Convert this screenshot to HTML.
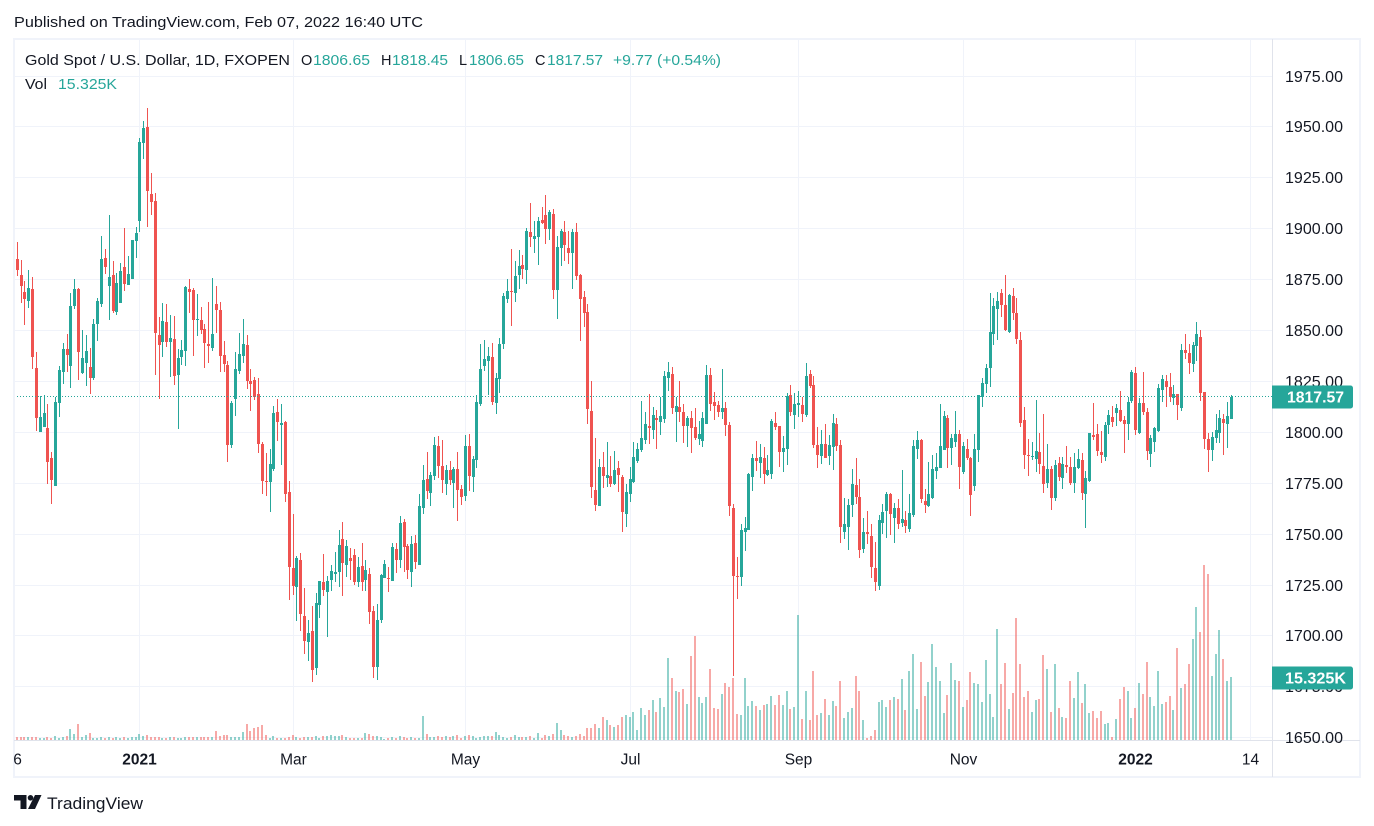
<!DOCTYPE html>
<html lang="en">
<head>
<meta charset="utf-8">
<title>Gold Spot / U.S. Dollar chart</title>
<style>
html,body{margin:0;padding:0;background:#fff;width:1374px;height:826px;overflow:hidden}
svg{display:block;font-family:"Liberation Sans",sans-serif}
</style>
</head>
<body>
<svg id="chart" xmlns="http://www.w3.org/2000/svg" width="1374" height="826" viewBox="0 0 1374 826">
  <defs>
    <clipPath id="pane-clip"><rect x="14" y="39" width="1258" height="702"/></clipPath>
    <clipPath id="time-clip"><rect x="14" y="741" width="1258" height="36"/></clipPath>
  </defs>
  <rect x="0" y="0" width="1374" height="826" fill="#ffffff"/>
  <text x="14" y="27" font-size="14.5" fill="#131722" textLength="409" lengthAdjust="spacingAndGlyphs">Published on TradingView.com, Feb 07, 2022 16:40 UTC</text>
  <g id="grid"></g>
  <g id="panes" clip-path="url(#pane-clip)">
    <g id="volumes"></g>
    <g id="candles"></g>
    <line id="last-line" x1="14" x2="1272" stroke="#26a69a" stroke-width="1" stroke-dasharray="1 2"/>
  </g>
  <rect x="14" y="39" width="1346" height="738" fill="none" stroke="#f0f3fa" stroke-width="2"/>
  <line x1="1272.5" x2="1272.5" y1="39" y2="777" stroke="#e0e3eb" stroke-width="1"/>
  <line x1="14" x2="1360" y1="740.5" y2="740.5" stroke="#e0e3eb" stroke-width="1"/>
  <g id="price-axis"></g>
  <g id="time-axis" clip-path="url(#time-clip)"></g>

  <g>
    <text x="25" y="65" font-size="14.5" fill="#131722" textLength="265" lengthAdjust="spacingAndGlyphs">Gold Spot / U.S. Dollar, 1D, FXOPEN</text>
    <text x="301" y="65" font-size="14.5" fill="#131722">O</text>
    <text x="313" y="65" font-size="14.5" fill="#26a69a" textLength="57" lengthAdjust="spacingAndGlyphs">1806.65</text>
    <text x="381" y="65" font-size="14.5" fill="#131722">H</text>
    <text x="392" y="65" font-size="14.5" fill="#26a69a" textLength="56" lengthAdjust="spacingAndGlyphs">1818.45</text>
    <text x="459" y="65" font-size="14.5" fill="#131722">L</text>
    <text x="469" y="65" font-size="14.5" fill="#26a69a" textLength="55" lengthAdjust="spacingAndGlyphs">1806.65</text>
    <text x="535" y="65" font-size="14.5" fill="#131722">C</text>
    <text x="547" y="65" font-size="14.5" fill="#26a69a" textLength="56" lengthAdjust="spacingAndGlyphs">1817.57</text>
    <text x="613" y="65" font-size="14.5" fill="#26a69a" textLength="108" lengthAdjust="spacingAndGlyphs">+9.77 (+0.54%)</text>
    <text x="25" y="89" font-size="14.5" fill="#131722" textLength="22" lengthAdjust="spacingAndGlyphs">Vol</text>
    <text x="58" y="89" font-size="14.5" fill="#26a69a" textLength="59" lengthAdjust="spacingAndGlyphs">15.325K</text>
  </g>

  <g>
    <path d="M14 795h12.5v14h-6v-8.5H14z" fill="#131722"/>
    <circle cx="30.5" cy="797.8" r="2.8" fill="#131722"/>
    <path d="M35 795h6.5L35 809h-7z" fill="#131722"/>
    <text x="47" y="809" font-size="17" fill="#131722" textLength="96" lengthAdjust="spacingAndGlyphs">TradingView</text>
  </g>
</svg>
<script>
const priceTicks = [1975,1950,1925,1900,1875,1850,1825,1800,1775,1750,1725,1700,1675,1650];
const timeTickLabels = ["6","2021","Mar","May","Jul","Sep","Nov","2022","14"];
const timeTickBars = [0,33,73,118,161,205,248,293,323];
const timeTickBold = [false,true,false,false,false,false,false,true,false];
const lastPrice = 1817.57;
const lastVolume = 15.325;

const opens = [1883.8,
1885.1,1877.3,1868.9,1864.5,1870.4,1831.6,1800.2,1802.6,1802.1,1787.4,1773.6,1814.4,1829.6,1840.9,1832.6,1862.0,1870.4,1829.1,1834.0,1832.1,
1826.7,1853.2,1863.0,1885.6,1871.9,1877.3,1859.1,1863.5,1881.2,1872.4,1875.3,1894.0,1903.8,1942.1,1949.9,1917.0,1913.6,1847.8,1844.4,1854.2,
1844.4,1845.8,1828.2,1837.0,1839.9,1870.4,1869.9,1855.2,1855.2,1850.7,1843.4,1841.4,1863.0,1860.1,1838.0,1833.1,
1793.8,1816.4,1830.1,1837.5,1842.9,1825.2,1825.7,1818.8,1794.3,1776.1,1775.6,1782.0,1810.0,1803.6,1805.1,1770.7,1733.4,1724.0,1737.3,1709.8,
1697.0,1702.4,1684.3,1715.2,1726.5,1721.6,1727.5,1730.4,1731.4,1747.6,1734.8,1738.3,1739.8,1726.5,1734.4,1727.5,1730.4,1712.3,1684.8,1707.8,
1728.5,1728.5,1727.0,1742.7,1737.3,1756.0,1744.2,1731.4,1745.7,1734.8,1762.8,1777.1,1770.2,1778.6,1793.3,
1783.5,1774.6,1781.5,1775.1,1782.0,1772.2,1768.7,1793.3,1778.1,1786.4,1813.9,1832.6,1835.0,1837.0,1814.4,1826.2,1843.4,1865.5,1869.4,1868.4,
1877.3,1882.2,1879.7,1898.4,1894.9,1895.9,1904.3,1906.7,1899.9,1907.2,1869.9,1890.5,1898.4,1890.5,1888.1,1898.4,1877.3,1866.5,1859.1,1810.5,
1771.7,1763.8,1783.0,1777.6,1778.6,1774.6,1782.5,1778.1,1759.9,1769.7,1775.6,1785.9,1791.3,1796.2,1803.1,
1801.1,1807.0,1805.1,1806.5,1826.7,1828.6,1810.0,1812.4,1810.0,1803.1,1807.0,1802.6,1796.7,1795.7,1804.1,1828.2,1814.9,1813.4,1810.0,1811.9,
1803.6,1762.8,1729.4,1729.0,1751.1,1752.0,1778.1,1787.4,1784.9,1787.4,1779.0,1779.5,1804.6,1803.1,1790.3,1791.8,1818.3,1808.5,1813.4,1813.4,
1808.5,1828.6,1823.2,1793.8,1788.4,1794.3,1788.4,1792.8,1804.1,1793.8,1751.1,1753.5,1764.3,1774.1,
1768.2,1742.7,1751.1,1749.1,1733.4,1724.5,1755.5,1761.4,1769.7,1757.9,1762.8,1755.5,1756.9,1752.5,1759.4,1791.8,1796.2,1766.3,1763.8,1767.8,
1781.0,1782.5,1791.3,1807.0,1792.3,1795.3,1799.2,1780.5,1791.8,1787.4,1773.6,1791.3,1817.4,1823.7,1831.6,1848.3,1860.6,1868.4,1862.5,1849.3,
1867.0,1858.6,1845.3,1806.1,1788.9,1787.9,1786.9,1790.3,1783.5,1775.1,
1782.0,1767.8,1784.9,1777.6,1784.0,1783.0,1775.1,1782.5,1786.4,1769.7,1776.1,1798.7,1799.2,1790.3,1787.9,1803.6,1807.5,1809.5,1811.0,1806.1,
1804.1,1815.4,1829.1,1799.7,1814.4,1810.0,1789.4,1795.3,1800.7,1820.8,1825.2,1822.3,1816.9,1818.8,1811.9,1840.4,1839.0,1833.6,1842.4,1846.8,
1819.8,1796.7,1791.3,1797.2,1799.7,1806.5,1804.1,1806.65];

const closes = [1887.9,
1879.7,1871.9,1865.5,1870.9,1837.0,1807.0,1807.5,1809.5,1785.4,1776.6,1814.9,1830.6,1840.9,1838.0,1862.0,1870.4,1839.5,1836.5,1839.9,1826.7,
1853.2,1864.5,1885.1,1881.2,1876.3,1859.6,1873.3,1879.2,1872.8,1877.8,1894.5,1897.9,1942.6,1949.5,1918.5,1913.1,1848.8,1842.9,1854.7,1844.4,
1846.3,1827.7,1836.5,1840.4,1871.4,1868.9,1855.2,1855.7,1850.3,1843.9,1842.4,1848.3,1860.1,1837.5,1833.6,1793.8,
1814.4,1831.1,1838.5,1843.4,1825.2,1823.7,1817.4,1794.3,1776.1,1775.6,1784.4,1809.5,1805.1,1804.6,1769.7,1733.9,1724.5,1738.3,1710.8,1697.5,
1701.5,1683.3,1716.2,1727.0,1722.6,1727.0,1731.9,1731.4,1744.7,1735.8,1744.2,1736.8,1726.5,1733.9,1726.5,1732.4,1711.8,1684.8,1707.8,1729.9,
1735.3,1728.0,1743.7,1737.3,1755.5,1743.7,1732.4,1745.2,1736.3,1763.8,1776.6,1771.2,1779.0,1793.8,1783.5,
1776.6,1781.5,1776.6,1782.0,1771.7,1768.2,1793.3,1778.6,1786.9,1814.9,1831.1,1836.0,1837.5,1814.9,1826.7,1843.4,1867.0,1869.4,1868.9,1876.8,
1881.7,1880.2,1898.9,1895.9,1896.4,1903.8,1902.8,1899.9,1908.2,1869.9,1891.0,1898.9,1892.0,1888.1,1898.4,1876.8,1865.5,1858.6,1811.5,1773.2,
1764.3,1783.0,1778.6,1779.0,1774.6,1781.5,1779.0,1760.9,1770.7,1777.1,1787.9,1791.8,1797.2,1804.1,1802.1,
1808.5,1806.1,1808.0,1827.7,1829.6,1811.9,1812.9,1810.0,1803.1,1807.0,1802.1,1797.2,1799.2,1807.0,1828.2,1813.9,1812.9,1810.0,1811.9,1803.6,
1763.8,1729.4,1729.0,1752.0,1753.0,1779.5,1787.4,1785.9,1787.9,1779.5,1781.5,1805.6,1802.6,1790.3,1792.3,1817.8,1810.0,1813.9,1814.4,1809.0,
1827.7,1822.8,1793.8,1788.9,1794.3,1787.4,1793.8,1804.6,1793.3,1753.5,1755.0,1764.3,1774.6,1768.2,
1742.2,1751.1,1750.1,1733.9,1726.5,1756.9,1760.9,1769.7,1759.9,1762.8,1755.0,1757.4,1754.0,1760.4,1793.3,1796.2,1767.3,1764.3,1769.7,1782.0,
1783.0,1793.3,1808.0,1792.3,1797.2,1799.2,1783.0,1793.3,1787.4,1769.2,1791.8,1818.3,1824.2,1831.6,1849.3,1862.0,1864.5,1862.5,1850.3,1867.4,
1858.6,1845.8,1804.6,1788.9,1788.4,1788.4,1790.8,1784.4,1774.6,1782.0,
1767.8,1784.0,1778.1,1784.4,1783.0,1775.1,1783.0,1786.9,1770.2,1777.6,1799.7,1797.7,1790.8,1788.9,1803.6,1808.5,1805.1,1811.9,1805.6,1804.1,
1814.9,1829.6,1801.1,1814.4,1810.0,1790.8,1797.2,1802.1,1821.8,1826.2,1822.3,1817.4,1818.8,1813.4,1840.4,1839.0,1834.0,1842.9,1848.3,1819.3,
1796.7,1791.3,1797.7,1801.1,1807.0,1804.6,1808.0,1817.57];

const highs = [1888.6,
1893.3,1884.6,1874.3,1879.7,1876.3,1839.5,1817.8,1818.3,1813.9,1790.3,1817.4,1832.6,1843.9,1848.3,1868.4,1875.3,1870.9,1850.3,1847.8,1841.4,
1855.7,1866.0,1896.4,1890.0,1906.7,1884.1,1878.2,1883.2,1900.3,1886.6,1894.5,1900.8,1944.5,1952.9,1959.3,1927.4,1917.5,1856.6,1863.5,1863.0,
1857.6,1857.1,1840.9,1845.3,1871.9,1875.3,1870.9,1867.9,1861.6,1853.2,1864.0,1875.8,1871.9,1864.0,1844.9,1835.0,
1815.4,1839.5,1848.8,1855.7,1847.8,1831.1,1827.2,1826.7,1795.3,1789.9,1791.8,1812.9,1816.4,1813.9,1805.6,1776.1,1759.9,1739.3,1740.7,1723.6,
1707.8,1714.7,1721.1,1727.0,1740.2,1729.4,1734.8,1741.2,1752.0,1756.0,1747.1,1743.2,1742.7,1738.8,1745.7,1737.3,1733.4,1714.7,1715.7,1730.4,
1737.3,1733.9,1745.7,1745.7,1758.9,1757.4,1745.2,1749.1,1749.6,1769.7,1784.0,1790.3,1780.5,1797.7,1798.2,
1796.2,1784.0,1785.9,1783.0,1790.3,1774.1,1798.7,1799.2,1788.4,1818.3,1843.4,1845.3,1841.9,1843.9,1829.1,1846.3,1868.4,1875.3,1890.0,1884.1,
1889.5,1887.1,1900.3,1912.6,1903.8,1905.7,1910.7,1916.6,1909.2,1909.7,1896.4,1899.9,1903.8,1898.9,1899.9,1902.8,1877.8,1869.4,1863.0,1825.2,
1797.2,1786.9,1790.3,1795.3,1788.4,1790.8,1785.9,1779.0,1774.6,1783.0,1795.3,1794.8,1815.4,1810.0,1818.8,
1812.4,1811.0,1817.4,1830.1,1834.5,1832.1,1817.4,1825.2,1813.9,1808.0,1810.5,1811.9,1805.6,1810.0,1833.1,1831.6,1819.8,1815.4,1831.1,1814.9,
1805.1,1764.8,1738.8,1755.0,1758.4,1780.0,1789.4,1795.7,1794.3,1792.8,1788.9,1806.5,1810.0,1803.1,1798.2,1819.3,1823.2,1819.3,1820.3,1817.4,
1834.0,1830.6,1827.7,1802.6,1801.1,1804.1,1798.7,1809.0,1807.0,1796.2,1767.8,1767.3,1782.0,1787.4,
1777.1,1757.9,1761.4,1755.0,1746.1,1759.4,1764.8,1770.7,1770.2,1765.3,1767.3,1781.5,1761.4,1769.7,1796.2,1800.7,1796.7,1772.2,1785.4,1788.9,
1789.9,1813.9,1810.5,1808.5,1799.2,1810.5,1801.1,1795.3,1796.7,1787.9,1799.2,1818.3,1826.7,1833.6,1868.4,1866.0,1868.9,1870.4,1877.3,1867.9,
1870.9,1866.0,1849.3,1812.4,1796.7,1795.3,1815.9,1799.7,1809.0,1794.3,
1783.5,1786.4,1787.9,1787.9,1793.3,1787.9,1789.9,1791.8,1789.9,1781.0,1799.7,1814.4,1804.1,1800.7,1805.1,1811.0,1812.9,1813.9,1820.3,1808.0,
1817.4,1830.6,1832.1,1816.9,1829.6,1811.9,1798.7,1802.6,1823.7,1828.2,1828.2,1829.1,1823.2,1818.8,1843.4,1848.3,1843.4,1844.4,1854.2,1850.3,
1819.8,1799.7,1800.2,1809.0,1811.0,1809.0,1814.9,1818.45];

const lows = [1883.2,
1876.9,1863.5,1852.7,1861.1,1831.1,1800.7,1800.2,1802.6,1774.6,1764.8,1773.6,1807.5,1823.7,1829.6,1821.8,1860.6,1825.7,1828.6,1822.8,1818.8,
1825.7,1844.9,1861.6,1877.8,1855.2,1858.6,1857.6,1863.5,1869.4,1872.4,1875.3,1885.6,1898.4,1934.2,1900.8,1906.7,1828.2,1816.4,1837.0,1841.9,
1827.2,1823.2,1801.6,1833.1,1832.6,1858.6,1837.5,1847.3,1848.3,1831.6,1834.0,1839.9,1848.8,1829.6,1829.6,1785.4,
1792.3,1808.0,1828.6,1834.0,1821.3,1810.5,1815.9,1789.9,1769.7,1768.7,1760.9,1781.0,1795.7,1784.0,1765.8,1717.7,1720.1,1707.3,1702.4,1691.1,
1687.7,1677.4,1680.8,1708.8,1719.6,1699.5,1722.1,1726.5,1724.0,1719.6,1729.0,1727.5,1725.0,1724.0,1722.1,1722.1,1705.9,1679.4,1678.4,1706.4,
1728.5,1721.6,1727.0,1730.9,1733.4,1731.4,1728.0,1724.0,1732.9,1734.8,1759.9,1767.3,1763.8,1776.6,1777.6,
1770.2,1769.2,1774.1,1762.8,1756.5,1764.3,1766.3,1771.2,1770.7,1782.5,1812.9,1830.1,1818.3,1813.4,1809.0,1819.3,1840.9,1863.5,1852.2,1864.0,
1870.4,1875.3,1872.8,1891.0,1888.1,1882.2,1902.3,1892.5,1894.5,1865.5,1855.7,1881.7,1884.1,1882.7,1870.4,1874.8,1844.9,1851.7,1804.1,1767.8,
1761.4,1763.8,1772.7,1773.2,1773.2,1774.1,1770.7,1751.1,1753.5,1765.8,1775.1,1784.9,1790.3,1794.3,1794.3,
1796.7,1791.8,1798.7,1804.6,1820.3,1809.0,1795.3,1805.1,1794.8,1792.8,1789.9,1796.2,1793.8,1792.8,1804.1,1810.5,1806.1,1807.5,1806.5,1798.2,
1758.9,1680.3,1718.1,1724.5,1741.7,1752.0,1771.2,1781.0,1777.6,1774.6,1778.6,1777.1,1801.1,1783.0,1780.5,1784.0,1808.0,1801.6,1807.5,1805.1,
1807.5,1821.8,1792.3,1782.5,1784.4,1787.4,1784.0,1781.5,1790.8,1745.7,1747.6,1742.2,1758.4,1764.8,
1738.3,1740.7,1745.2,1728.5,1722.1,1722.6,1750.1,1748.1,1749.6,1745.7,1752.5,1753.5,1750.6,1751.1,1758.4,1786.9,1765.3,1760.4,1763.3,1767.3,
1777.1,1782.5,1791.3,1782.5,1784.0,1792.8,1772.2,1779.5,1786.4,1758.9,1771.2,1785.4,1812.4,1819.3,1822.3,1842.9,1845.3,1856.6,1849.8,1848.8,
1855.2,1843.4,1802.6,1782.0,1778.6,1786.4,1780.5,1779.5,1770.2,1772.7,
1761.9,1766.3,1776.1,1772.2,1780.0,1774.1,1770.2,1782.0,1766.8,1753.0,1775.6,1796.2,1788.4,1784.9,1785.9,1799.2,1802.6,1803.1,1805.1,1789.9,
1796.2,1814.4,1798.7,1799.2,1808.5,1786.4,1783.0,1790.3,1800.2,1814.9,1812.4,1814.9,1813.4,1806.1,1810.5,1836.0,1828.6,1829.6,1835.0,1815.4,
1791.8,1780.5,1785.9,1794.8,1794.8,1788.9,1792.3,1806.65];

const volumesK = [.81,
.81,.81,.81,.81,.81,.81,.49,.49,.73,.57,.97,.49,.81,.97,2.68,1.46,3.89,.81,1.22,1.78,
.49,.49,.81,.49,.73,.57,.73,.49,.73,.49,.73,.73,1.46,.97,1.22,.73,.73,.73,.49,.49,
.73,.73,.49,.49,.73,.73,.73,.73,.73,.73,.73,.73,2.19,.97,1.22,1.22,
.73,.73,.73,1.95,3.89,2.19,2.92,3.16,3.65,1.22,.49,.97,.49,.49,.49,.73,1.22,.73,.49,.73,
.73,.73,.97,.49,.97,.97,1.22,.97,.97,1.22,.73,.49,.49,.49,.49,1.7,1.46,.97,.97,.73,
.24,.49,.73,.49,.97,.73,.49,.73,.49,.49,5.84,1.46,.73,.73,.97,
.73,.97,.73,.97,1.22,.49,.97,1.22,.97,.49,.73,.97,.97,.97,1.95,1.22,.73,.49,.73,1.22,
.73,.73,.73,.97,.49,1.7,.49,1.22,.97,1.46,4.14,2.43,1.22,.97,.73,.97,1.46,.97,2.92,2.92,
3.89,2.92,5.6,4.87,3.65,3.16,3.65,5.6,6.08,5.6,6.81,2.43,7.79,6.08,7.3,
9.73,6.81,10.22,8.03,19.95,15.08,11.92,11.68,12.41,8.76,20.44,25.3,10.46,9.0,10.46,17.27,7.79,7.54,11.19,13.87,
12.89,15.08,6.33,6.08,15.08,8.27,9.49,8.27,7.3,8.52,8.76,10.71,8.52,10.95,8.52,11.92,7.54,8.03,30.41,5.11,
11.92,4.87,16.79,6.08,6.57,9.98,6.08,9.49,8.27,14.35,5.35,6.81,7.79,15.57,
11.92,4.87,.49,.97,2.43,9.25,9.73,8.03,9.73,10.46,9.98,14.84,7.3,16.79,20.92,7.54,18.98,10.71,14.11,23.36,
17.76,14.35,6.57,10.95,18.73,14.6,14.35,8.03,9.73,16.54,13.87,13.62,9.25,19.46,11.19,5.6,27.01,13.62,18.73,7.54,
11.44,29.68,18.49,10.46,11.92,6.81,9.73,9.98,20.68,17.27,
6.81,18.49,7.79,5.6,5.35,14.35,10.22,16.54,9.0,13.62,6.57,7.06,5.35,7.06,3.89,4.14,.73,5.11,9.98,12.89,
11.92,5.35,7.79,13.87,11.19,18.98,10.46,8.27,16.79,8.76,9.25,10.71,7.3,22.38,12.65,13.62,18.49,24.57,32.36,26.28,
42.58,40.39,15.57,20.92,26.76,19.71,14.35,15.325];

const UP = '#26a69a';
const DOWN = '#ef5350';
const SVGNS = 'http://www.w3.org/2000/svg';
const xOf = function (i) { return 13.47 + 3.83 * i; };
const yOfPrice = function (p) { return 432.3 - (p - 1800) * 2.036; };
const yOfVolume = function (v) { return 740 - v * 4.11; };
const group = function (id) { return document.getElementById(id); };

function rect(parent, x, y, w, h, fill, opacity) {
  const el = document.createElementNS(SVGNS, 'rect');
  el.setAttribute('x', x);
  el.setAttribute('y', y);
  el.setAttribute('width', w);
  el.setAttribute('height', h);
  el.setAttribute('fill', fill);
  el.setAttribute('shape-rendering', 'crispEdges');
  if (opacity !== undefined) el.setAttribute('fill-opacity', opacity);
  parent.appendChild(el);
  return el;
}
function label(parent, x, y, str, size, fill, anchor, weight, fitWidth) {
  const el = document.createElementNS(SVGNS, 'text');
  el.setAttribute('x', x);
  el.setAttribute('y', y);
  el.setAttribute('font-size', size);
  el.setAttribute('fill', fill);
  if (anchor) el.setAttribute('text-anchor', anchor);
  if (weight) el.setAttribute('font-weight', weight);
  if (fitWidth) {
    el.setAttribute('textLength', fitWidth);
    el.setAttribute('lengthAdjust', 'spacingAndGlyphs');
  }
  el.textContent = str;
  parent.appendChild(el);
  return el;
}

priceTicks.forEach(function (p) {
  const y = Math.floor(yOfPrice(p)) + 0.5;
  const line = rect(group('grid'), 15, y - 0.5, 1257, 1, '#f0f3fa');
  
  
  const t = label(group('price-axis'), 1285, y + 5.5, p.toFixed(2), 15.5, '#131722', null, null, 58);
  
  
});

timeTickBars.forEach(function (bar, k) {
  const x = Math.floor(xOf(bar));
  if (k > 0) {
    const line = rect(group('grid'), x, 40, 1, 700, '#f0f3fa');
    
    
  }
  const lx = k === 0 ? 17.5 : x + 0.5;
  const t = label(group('time-axis'), lx, 764.5, timeTickLabels[k], 15.5, '#131722', 'middle', timeTickBold[k] ? 'bold' : null);
  
  
});

opens.forEach(function (open, i) {
  const close = closes[i];
  const color = close >= open ? UP : DOWN;
  const px = Math.floor(xOf(i));

  const vTop = Math.round(yOfVolume(volumesK[i]));
  const bar = rect(group('volumes'), px - 1, vTop, 2, Math.max(1, 740 - vTop), color, 0.5);
  
  

  const wTop = Math.round(yOfPrice(highs[i]));
  const wBot = Math.round(yOfPrice(lows[i]));
  const wick = rect(group('candles'), px, wTop, 1, Math.max(1, wBot - wTop), color);
  
  

  const bTop = Math.round(yOfPrice(Math.max(open, close)));
  const bBot = Math.round(yOfPrice(Math.min(open, close)));
  const body = rect(group('candles'), px - 1, bTop, 3, Math.max(1, bBot - bTop), color);
  
  
});

const lastY = Math.floor(yOfPrice(lastPrice)) + 0.5;
const lastLine = document.getElementById('last-line');
lastLine.setAttribute('y1', lastY);
lastLine.setAttribute('y2', lastY);

function axisBadge(cy, text, nameRect, nameText, lx, width) {
  const path = document.createElementNS(SVGNS, 'path');
  const top = Math.round(cy) - 11.5;
  path.setAttribute('d', 'M1272 ' + top + 'h78.5a2.5 2.5 0 0 1 2.5 2.5v18a2.5 2.5 0 0 1-2.5 2.5h-78.5z');
  path.setAttribute('fill', UP);
  
  
  group('price-axis').appendChild(path);
  const t = label(group('price-axis'), lx, Math.round(cy) + 5.5, text, 15.5, '#ffffff', null, 'bold', width);
  
  
}
axisBadge(yOfPrice(lastPrice), lastPrice.toFixed(2), 'last-price-badge', 'last-price-text', 1287, 57);
axisBadge(yOfVolume(lastVolume) + 0.5, lastVolume.toFixed(3) + 'K', 'last-volume-badge', 'last-volume-text', 1285, 61);
</script>
</body>
</html>
